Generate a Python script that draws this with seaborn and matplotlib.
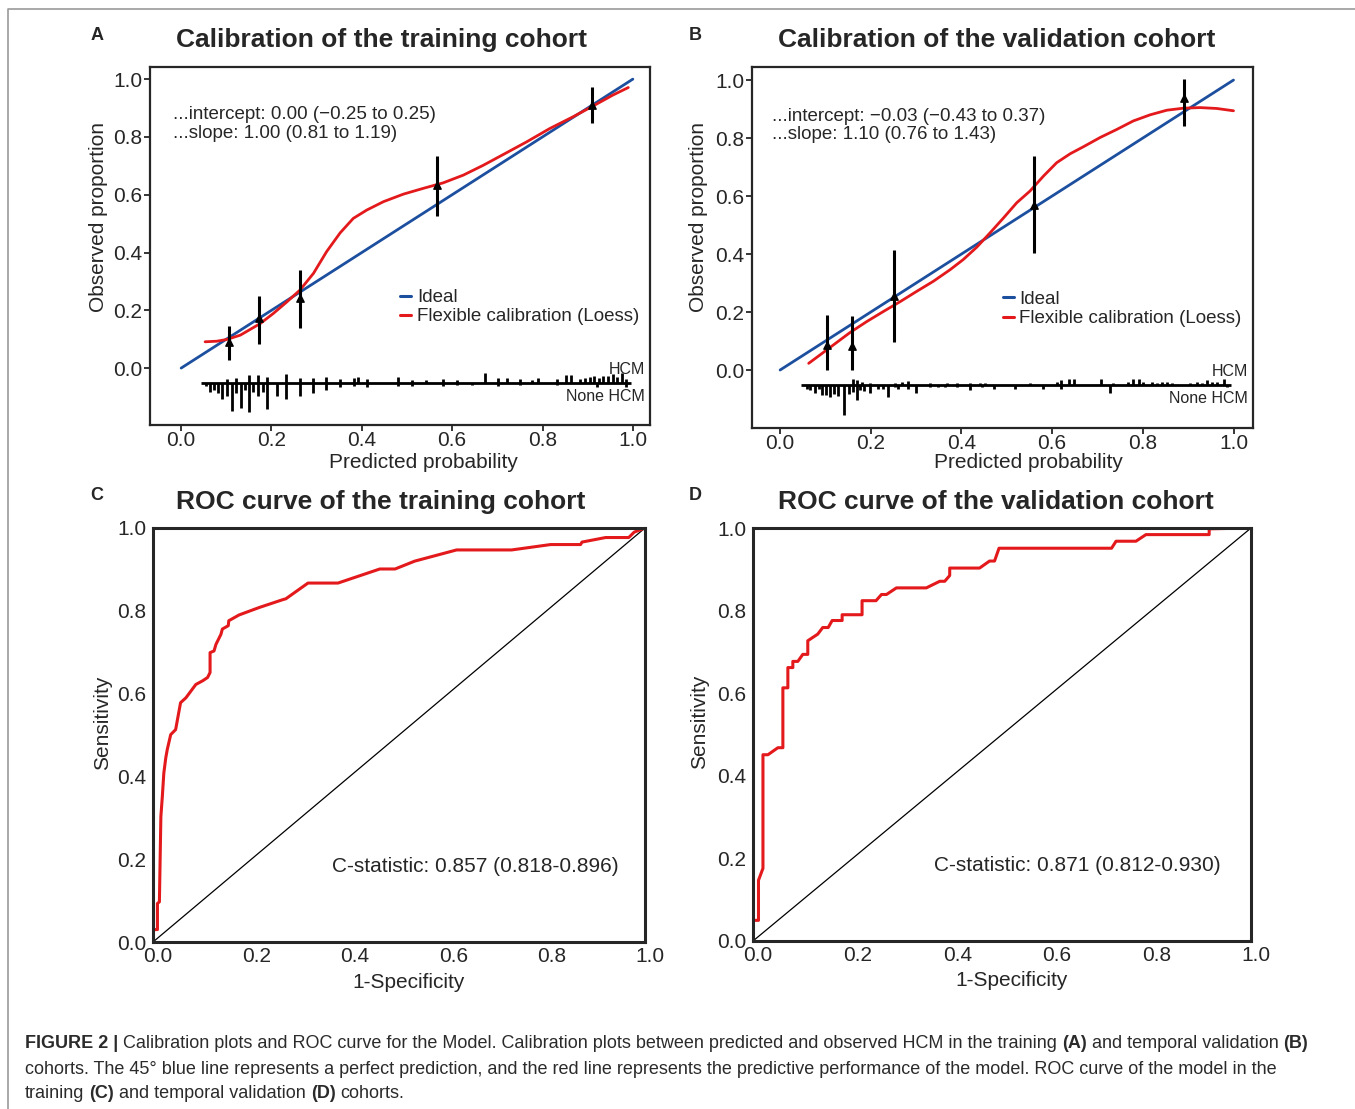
import numpy as np
import pandas as pd
import matplotlib
matplotlib.use("Agg")
import matplotlib.pyplot as plt
import matplotlib.transforms as mtransforms
from matplotlib.lines import Line2D
import seaborn as sns

sns.set_style("ticks")
plt.rcParams["font.family"] = ["Liberation Sans", "DejaVu Sans"]

# ---- calibration, training cohort (A)
a_loess_x = [0.053, 0.079, 0.101, 0.131, 0.153, 0.175, 0.204, 0.234, 0.263, 0.293, 0.322, 0.352,
             0.381, 0.411, 0.448, 0.492, 0.536, 0.580, 0.625, 0.669, 0.713, 0.765, 0.816, 0.868,
             0.912, 0.956, 0.990]
a_loess_y = [0.091, 0.093, 0.099, 0.114, 0.134, 0.154, 0.189, 0.229, 0.270, 0.328, 0.403, 0.468,
             0.518, 0.547, 0.576, 0.602, 0.622, 0.641, 0.668, 0.702, 0.739, 0.783, 0.829, 0.870,
             0.907, 0.945, 0.971]
a_grp_x = [0.107, 0.173, 0.264, 0.567, 0.909]
a_grp_y = [0.091, 0.172, 0.241, 0.633, 0.912]
a_grp_lo = [0.028, 0.082, 0.139, 0.526, 0.849]
a_grp_hi = [0.146, 0.250, 0.339, 0.735, 0.974]
a_none_x = [0.055, 0.063, 0.072, 0.081, 0.090, 0.101, 0.112, 0.122, 0.132, 0.142, 0.151, 0.160,
            0.171, 0.181, 0.191, 0.212, 0.232, 0.263, 0.291, 0.321, 0.352, 0.383, 0.412, 0.481,
            0.512, 0.580, 0.611, 0.643, 0.702, 0.750, 0.833, 0.920, 0.985]
a_none_h = [0.010, 0.030, 0.025, 0.035, 0.055, 0.045, 0.095, 0.035, 0.087, 0.025, 0.100, 0.030,
            0.045, 0.030, 0.090, 0.045, 0.055, 0.045, 0.035, 0.025, 0.015, 0.010, 0.012, 0.010,
            0.010, 0.010, 0.008, 0.008, 0.010, 0.008, 0.008, 0.012, 0.012]
a_hcm_x = [0.101, 0.122, 0.151, 0.171, 0.191, 0.232, 0.263, 0.291, 0.321, 0.352, 0.383, 0.392,
           0.412, 0.481, 0.512, 0.542, 0.580, 0.611, 0.673, 0.702, 0.721, 0.750, 0.776, 0.791,
           0.833, 0.853, 0.862, 0.883, 0.895, 0.905, 0.915, 0.925, 0.935, 0.945, 0.955, 0.965,
           0.975, 0.985]
a_hcm_h = [0.015, 0.018, 0.028, 0.028, 0.022, 0.030, 0.018, 0.018, 0.022, 0.014, 0.018, 0.022,
           0.014, 0.020, 0.012, 0.010, 0.014, 0.012, 0.035, 0.018, 0.018, 0.014, 0.012, 0.018,
           0.014, 0.028, 0.028, 0.014, 0.018, 0.020, 0.025, 0.018, 0.025, 0.025, 0.030, 0.022,
           0.035, 0.015]

# ---- calibration, validation cohort (B)
b_loess_x = [0.063, 0.088, 0.118, 0.154, 0.191, 0.228, 0.265, 0.301, 0.338, 0.375, 0.404, 0.434,
             0.463, 0.493, 0.522, 0.551, 0.581, 0.610, 0.640, 0.669, 0.706, 0.743, 0.779, 0.816,
             0.853, 0.890, 0.926, 0.963, 1.000]
b_loess_y = [0.023, 0.052, 0.087, 0.129, 0.167, 0.202, 0.236, 0.271, 0.306, 0.346, 0.381, 0.424,
             0.473, 0.525, 0.577, 0.617, 0.669, 0.715, 0.746, 0.770, 0.802, 0.830, 0.859, 0.880,
             0.896, 0.903, 0.905, 0.902, 0.894]
b_grp_x = [0.103, 0.158, 0.251, 0.560, 0.890]
b_grp_y = [0.087, 0.084, 0.256, 0.569, 0.937]
b_grp_lo = [0.000, 0.000, 0.098, 0.404, 0.842]
b_grp_hi = [0.188, 0.185, 0.413, 0.738, 1.003]
b_none_x = [0.059, 0.066, 0.076, 0.085, 0.092, 0.101, 0.110, 0.118, 0.127, 0.140, 0.151, 0.160,
            0.169, 0.176, 0.186, 0.199, 0.217, 0.228, 0.239, 0.254, 0.261, 0.283, 0.299, 0.331,
            0.349, 0.364, 0.390, 0.419, 0.445, 0.471, 0.518, 0.579, 0.619, 0.728, 0.985]
b_none_h = [0.012, 0.017, 0.028, 0.012, 0.035, 0.035, 0.040, 0.030, 0.038, 0.104, 0.030, 0.023,
            0.052, 0.017, 0.020, 0.028, 0.012, 0.012, 0.040, 0.006, 0.012, 0.012, 0.026, 0.006,
            0.006, 0.006, 0.008, 0.017, 0.006, 0.012, 0.012, 0.012, 0.012, 0.029, 0.006]
b_hcm_x = [0.160, 0.169, 0.180, 0.199, 0.254, 0.268, 0.283, 0.331, 0.367, 0.390, 0.419, 0.441,
           0.452, 0.552, 0.610, 0.619, 0.638, 0.648, 0.707, 0.735, 0.768, 0.779, 0.791, 0.801,
           0.820, 0.831, 0.842, 0.853, 0.864, 0.904, 0.919, 0.930, 0.941, 0.952, 0.963, 0.978]
b_hcm_h = [0.020, 0.017, 0.012, 0.008, 0.008, 0.012, 0.015, 0.008, 0.008, 0.008, 0.008, 0.008,
           0.008, 0.006, 0.012, 0.017, 0.020, 0.020, 0.020, 0.008, 0.012, 0.020, 0.020, 0.012,
           0.012, 0.008, 0.012, 0.012, 0.008, 0.008, 0.012, 0.008, 0.017, 0.012, 0.012, 0.020]

# ---- ROC curves (C, D)
c_fpr = [0.0, 0.0, 0.009, 0.009, 0.013, 0.016, 0.019, 0.022, 0.026, 0.029, 0.036, 0.046, 0.056,
         0.067, 0.077, 0.087, 0.101, 0.111, 0.116, 0.116, 0.124, 0.128, 0.138, 0.141, 0.153,
         0.154, 0.175, 0.216, 0.264, 0.270, 0.315, 0.376, 0.461, 0.492, 0.532, 0.617, 0.729,
         0.808, 0.869, 0.872, 0.920, 0.967, 0.978, 1.0]
c_tpr = [0.0, 0.030, 0.030, 0.093, 0.097, 0.303, 0.352, 0.408, 0.445, 0.465, 0.501, 0.513, 0.578,
         0.590, 0.606, 0.622, 0.631, 0.639, 0.651, 0.699, 0.703, 0.719, 0.743, 0.756, 0.764,
         0.776, 0.790, 0.808, 0.827, 0.829, 0.867, 0.867, 0.901, 0.901, 0.920, 0.947, 0.947,
         0.960, 0.960, 0.966, 0.977, 0.977, 0.990, 1.0]
d_fpr = [0.0, 0.0, 0.011, 0.011, 0.020, 0.020, 0.030, 0.050, 0.060, 0.060, 0.070, 0.070, 0.080,
         0.080, 0.090, 0.100, 0.110, 0.110, 0.130, 0.140, 0.151, 0.159, 0.179, 0.179, 0.219,
         0.219, 0.247, 0.258, 0.268, 0.288, 0.348, 0.375, 0.385, 0.395, 0.395, 0.455, 0.475,
         0.485, 0.494, 0.720, 0.729, 0.769, 0.789, 0.916, 0.916, 1.0]
d_tpr = [0.0, 0.050, 0.050, 0.147, 0.176, 0.451, 0.451, 0.468, 0.468, 0.613, 0.613, 0.662, 0.662,
         0.677, 0.677, 0.694, 0.694, 0.727, 0.743, 0.759, 0.759, 0.776, 0.776, 0.790, 0.790,
         0.824, 0.824, 0.839, 0.839, 0.855, 0.855, 0.871, 0.871, 0.885, 0.903, 0.903, 0.920,
         0.920, 0.951, 0.951, 0.968, 0.968, 0.984, 0.984, 0.998, 1.0]

BLUE = "#1d4f9f"
RED = "#e3191c"

fig = plt.figure(figsize=(13.55, 11.09), dpi=100)
W, H = 1355, 1109


def box(l, t, r, b):
    return [l / W, 1 - b / H, (r - l) / W, (b - t) / H]


def calib(ax, lx, ly, gx, gy, glo, ghi, nx, nh, hx, hh, txt, xlim, ylim):
    ticks = [0, 0.2, 0.4, 0.6, 0.8, 1.0]
    sns.lineplot(x=[0, 1], y=[0, 1], color=BLUE, lw=2, ax=ax, estimator=None, sort=False)
    sns.lineplot(x=lx, y=ly, color=RED, lw=2, ax=ax, estimator=None, sort=False)
    ax.vlines(gx, glo, ghi, color="black", lw=2.2, zorder=4)
    ax.scatter(gx, gy, marker="^", s=28, color="black", zorder=5)
    base = -0.052
    ax.hlines(base, 0.045, 0.995, color="black", lw=2)
    ax.vlines(nx, base, base - np.array(nh), color="black", lw=2)
    ax.vlines(hx, base, base + np.array(hh), color="black", lw=2)
    ax.text(0.99, 0.156, "HCM", transform=ax.transAxes, ha="right", va="center", fontsize=11.5)
    ax.text(0.99, 0.081, "None HCM", transform=ax.transAxes, ha="right", va="center", fontsize=11.5)
    ax.text(-0.017, 0.876, txt[0], fontsize=13.5, va="center")
    ax.text(-0.017, 0.812, txt[1], fontsize=13.5, va="center")
    ax.set_xlim(*xlim)
    ax.set_ylim(*ylim)
    ax.set_xticks(ticks)
    ax.set_yticks(ticks)
    ax.set_xticklabels([f"{t:.1f}" for t in ticks])
    ax.set_yticklabels([f"{t:.1f}" for t in ticks])
    ax.set_xlabel("")
    ax.set_ylabel("")
    ax.tick_params(direction="out", length=4, width=1.3, pad=1.5, labelsize=15)
    ax.tick_params(axis="x", pad=0)
    for s in ax.spines.values():
        s.set_visible(True)
        s.set_linewidth(1.6)
    handles = [Line2D([0], [0], color=BLUE, lw=2.2), Line2D([0], [0], color=RED, lw=2.2)]
    ax.legend(handles, ["Ideal", "Flexible calibration (Loess)"], loc="upper left",
              bbox_to_anchor=(0.5, 0.38), frameon=False, fontsize=13.5, handlelength=0.6,
              handletextpad=0.3, labelspacing=0.12, borderpad=0, borderaxespad=0)


def roc(ax, fpr, tpr, txt):
    ticks = [0, 0.2, 0.4, 0.6, 0.8, 1.0]
    sns.lineplot(x=[0, 1], y=[0, 1], color="black", lw=0.9, ax=ax, estimator=None, sort=False)
    sns.lineplot(x=fpr, y=tpr, color=RED, lw=2.2, ax=ax, estimator=None, sort=False)
    ax.text(0.363, 0.183, txt, fontsize=15, va="center")
    ax.set_xlim(0, 1)
    ax.set_ylim(0, 1)
    ax.set_xticks(ticks)
    ax.set_yticks(ticks)
    ax.set_xticklabels([f"{t:.1f}" for t in ticks])
    ax.set_yticklabels([f"{t:.1f}" for t in ticks])
    ax.set_xlabel("")
    ax.set_ylabel("")
    ax.tick_params(length=0, pad=5, labelsize=15)
    ax.tick_params(axis="x", pad=3.5)
    shift = mtransforms.ScaledTranslation(5 / 100, 0, fig.dpi_scale_trans)
    for lab in ax.get_xticklabels():
        lab.set_transform(lab.get_transform() + shift)
    for s in ax.spines.values():
        s.set_visible(True)
        s.set_linewidth(2.2)


ax_a = fig.add_axes(box(150, 67, 650, 425))
calib(ax_a, a_loess_x, a_loess_y, a_grp_x, a_grp_y, a_grp_lo, a_grp_hi,
      a_none_x, a_none_h, a_hcm_x, a_hcm_h,
      ["...intercept: 0.00 (\u22120.25 to 0.25)", "...slope: 1.00 (0.81 to 1.19)"],
      (-0.069, 1.038), (-0.197, 1.042))

ax_b = fig.add_axes(box(752, 67, 1253, 428))
calib(ax_b, b_loess_x, b_loess_y, b_grp_x, b_grp_y, b_grp_lo, b_grp_hi,
      b_none_x, b_none_h, b_hcm_x, b_hcm_h,
      ["...intercept: \u22120.03 (\u22120.43 to 0.37)", "...slope: 1.10 (0.76 to 1.43)"],
      (-0.062, 1.043), (-0.2, 1.045))

ax_c = fig.add_axes(box(153, 528, 645, 942))
roc(ax_c, c_fpr, c_tpr, "C-statistic: 0.857 (0.818-0.896)")

ax_d = fig.add_axes(box(753, 528, 1251, 941))
roc(ax_d, d_fpr, d_tpr, "C-statistic: 0.871 (0.812-0.930)")

# titles, panel letters, axis labels
for x, y, s in [(382, 40, "Calibration of the training cohort"),
                (997, 40, "Calibration of the validation cohort"),
                (381, 502, "ROC curve of the training cohort"),
                (996, 502, "ROC curve of the validation cohort")]:
    fig.text(x / W, 1 - y / H, s, ha="center", va="center", fontsize=19, fontweight="bold")
for x, y, s in [(97, 35, "A"), (695, 35, "B"), (97, 496, "C"), (695, 496, "D")]:
    fig.text(x / W, 1 - y / H, s, ha="center", va="center", fontsize=13, fontweight="bold")
for x, y, s in [(423, 462, "Predicted probability"), (1028, 462, "Predicted probability"),
                (409, 983, "1-Specificity"), (1012, 981, "1-Specificity")]:
    fig.text(x / W, 1 - y / H, s, ha="center", va="center", fontsize=15)
for x, y, s in [(98, 217, "Observed proportion"), (698, 217, "Observed proportion"),
                (103, 723, "Sensitivity"), (700, 722, "Sensitivity")]:
    fig.text(x / W, 1 - y / H, s, ha="center", va="center", fontsize=15, rotation=90)

# frame around figure
fig.add_artist(Line2D([8 / W, 8 / W, 1.0], [0.0, 1 - 9 / H, 1 - 9 / H], color="#9a9a9a", lw=1.2))

# caption with bold runs
renderer = fig.canvas.get_renderer()
CAP = 12.95
CAP_COLOR = "#2b2b2b"
probe1 = fig.text(0, 0, "xx", fontsize=CAP)
probe2 = fig.text(0, 0, "x x", fontsize=CAP)
space = (probe2.get_window_extent(renderer).width - probe1.get_window_extent(renderer).width) / W
probe1.remove()
probe2.remove()

caption = [
    (1043, [("FIGURE 2 |", "bold"),
            ("Calibration plots and ROC curve for the Model. Calibration plots between predicted "
             "and observed HCM in the training", "normal"),
            ("(A)", "bold"), ("and temporal validation", "normal"), ("(B)", "bold")]),
    (1069, [("cohorts. The 45\u00b0 blue line represents a perfect prediction, and the red line "
             "represents the predictive performance of the model. ROC curve of the model in the",
             "normal")]),
    (1094, [("training", "normal"), ("(C)", "bold"), ("and temporal validation", "normal"),
            ("(D)", "bold"), ("cohorts.", "normal")]),
]
for y, parts in caption:
    x = 25 / W
    for s, w in parts:
        t = fig.text(x, 1 - y / H, s, fontsize=CAP, fontweight=w, color=CAP_COLOR,
                     ha="left", va="center")
        x += t.get_window_extent(renderer).width / W + space

fig.savefig("out.png", dpi=100)
